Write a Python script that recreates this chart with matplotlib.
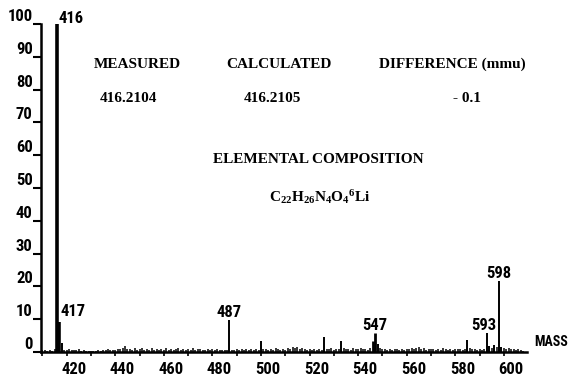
import matplotlib
matplotlib.use("Agg")
import matplotlib.pyplot as plt
import matplotlib.transforms as mtransforms
from matplotlib import font_manager

# ---- data ----
peak_mass = [416, 417, 418, 487, 500, 526, 533, 546, 547, 548, 585, 593, 594, 596, 598, 599]
peak_int = [100, 9.0, 2.8, 9.8, 3.4, 4.5, 3.4, 3.5, 5.9, 2.4, 3.7, 5.9, 1.8, 2.2, 21.5, 1.4]

noise_mass = list(range(410, 609))
noise_int = [
    # 410-419
    0.5, 0.6, 0.4, 0.5, 0.4, 0.9, 0.0, 0.0, 0.0, 0.7,
    # 420-429
    0.5, 0.8, 0.6, 0.7, 0.5, 0.8, 0.4, 0.6, 0.3, 0.4,
    # 430-439
    0.3, 0.4, 0.3, 0.6, 0.4, 0.7, 0.5, 0.9, 0.6, 0.5,
    # 440-449
    0.7, 1.0, 0.8, 1.1, 1.7, 0.8, 1.0, 0.6, 1.1, 0.5,
    # 450-459
    0.8, 1.2, 0.6, 0.9, 0.7, 1.2, 0.6, 0.8, 0.5, 1.0,
    # 460-469
    0.7, 1.3, 0.6, 0.9, 0.5, 0.8, 1.1, 0.6, 0.9, 0.5,
    # 470-479
    1.0, 0.7, 1.1, 0.6, 0.9, 1.0, 0.7, 0.5, 0.8, 0.6,
    # 480-489
    0.9, 0.6, 0.8, 0.5, 0.7, 0.6, 0.5, 0.0, 0.7, 0.6,
    # 490-499
    0.9, 0.5, 0.8, 0.7, 1.0, 0.6, 0.8, 0.5, 0.9, 0.7,
    # 500-509
    0.0, 0.8, 1.0, 0.6, 0.9, 0.7, 1.1, 0.8, 0.6, 1.0,
    # 510-519
    0.7, 1.2, 0.9, 1.5, 1.1, 1.6, 0.8, 1.3, 0.9, 0.6,
    # 520-529
    1.0, 0.7, 0.9, 0.6, 1.0, 0.7, 0.0, 1.0, 0.8, 1.1,
    # 530-539
    0.7, 1.0, 0.8, 0.0, 1.1, 0.9, 1.0, 0.7, 1.1, 0.8,
    # 540-549
    0.9, 1.2, 0.8, 1.0, 0.7, 1.1, 0.0, 0.0, 0.0, 1.2,
    # 550-559
    0.8, 1.0, 0.6, 0.9, 0.7, 1.0, 0.8, 0.6, 0.9, 0.7,
    # 560-569
    1.0, 0.8, 1.1, 0.9, 1.3, 1.6, 0.8, 1.2, 0.7, 1.0,
    # 570-579
    0.8, 0.9, 0.6, 1.0, 0.7, 1.1, 0.8, 0.6, 0.9, 0.7,
    # 580-589
    1.0, 0.8, 0.9, 0.7, 1.0, 0.0, 1.2, 0.8, 1.0, 0.7,
    # 590-599
    0.9, 0.6, 1.0, 0.0, 0.0, 1.2, 0.0, 1.4, 0.0, 0.0,
    # 600-608
    1.2, 0.9, 1.1, 0.8, 1.0, 0.7, 0.9, 0.6, 0.4,
]

y_ticks = [0, 10, 20, 30, 40, 50, 60, 70, 80, 90, 100]
x_major = [420, 440, 460, 480, 500, 520, 540, 560, 580, 600]
x_minor = [410, 430, 450, 470, 490, 510, 530, 550, 570, 590]
peak_labels = ["416", "417", "487", "547", "593", "598"]

# ---- fonts: look for a narrow / condensed sans face ----
fl = font_manager.fontManager.ttflist
tick_family = None
tick_stretch = "normal"
for name in ["Liberation Sans Narrow", "DejaVu Sans Condensed", "Roboto Condensed",
             "Open Sans Condensed", "Noto Sans Condensed"]:
    if any(f.name == name for f in fl):
        tick_family = name
        break
if tick_family is None:
    for f in fl:
        st = str(f.stretch)
        if st in ("condensed", "semi-condensed", "extra-condensed", "ultra-condensed") or \
                (st.isdigit() and int(st) < 500):
            if "Sans" in f.name or "Roboto" in f.name or "Inter" in f.name:
                tick_family = f.name
                tick_stretch = st
                break
if tick_family is None:
    tick_family = "Liberation Sans"

plt.rcParams['mathtext.fontset'] = 'custom'
plt.rcParams['mathtext.rm'] = 'Liberation Serif:bold'
plt.rcParams['mathtext.it'] = 'Liberation Serif:bold'
plt.rcParams['mathtext.bf'] = 'Liberation Serif:bold'

W, H = 571, 376
fig = plt.figure(figsize=(W / 100, H / 100), dpi=100)
ax = fig.add_axes([41 / W, 1 - 352 / H, (527 - 41) / W, (352 - 24) / H])
ax.set_xlim(409.4, 609.5)
ax.set_ylim(0, 100)

ax.vlines(noise_mass, 0, noise_int, color="black", linewidth=1.1)
widths = [2.6 if m in (416, 417) else (2.0 if m in (546, 547) else 1.4) for m in peak_mass]
ax.vlines(peak_mass, 0, peak_int, color="black", linewidth=widths)

for s in ("top", "right"):
    ax.spines[s].set_visible(False)
for s in ("left", "bottom"):
    ax.spines[s].set_linewidth(1.8)

tsize = 12 if tick_family != "Liberation Sans" else 10
tfont = dict(family=[tick_family, "DejaVu Sans"], weight="bold", size=tsize, stretch=tick_stretch)

ax.set_yticks(y_ticks)
ax.set_yticklabels([str(v) for v in y_ticks], **tfont)
for lab in ax.get_yticklabels():
    lab.set_verticalalignment("bottom")
ax.tick_params(axis="y", direction="out", length=6, width=1.5, pad=0)

ax.set_xticks(x_major)
ax.set_xticks(x_minor, minor=True)
ax.set_xticklabels([str(v) for v in x_major], **tfont)
ax.tick_params(axis="x", which="both", direction="out", length=3, width=1.2, pad=4)
off = mtransforms.ScaledTranslation(7 / 100, 0, fig.dpi_scale_trans)
for lab in ax.get_xticklabels():
    lab.set_transform(lab.get_transform() + off)

def ptxt(m, v, s, ha, dx=0, dy=0):
    t = ax.text(m, v, s, ha=ha, va="bottom", clip_on=False, **tfont)
    t.set_transform(ax.transData + mtransforms.ScaledTranslation(dx / 100, dy / 100, fig.dpi_scale_trans))

pk = dict(zip(peak_mass, peak_int))
ptxt(416, 100, peak_labels[0], "left", dx=1, dy=-2)
ptxt(417.4, pk[417] + 1.0, peak_labels[1], "left")
ptxt(487, pk[487], peak_labels[2], "center")
ptxt(547, pk[547], peak_labels[3], "center")
ptxt(593, pk[593], peak_labels[4], "center", dx=-3)
ptxt(598, pk[598], peak_labels[5], "center")

mfont = dict(tfont)
mfont["size"] = tsize - 2
fig.text(568 / W, 1 - 342 / H, "MASS", ha="right", va="center", **mfont)

sfont = dict(family=["Liberation Serif", "DejaVu Serif"], weight="bold", size=11)
fig.text(137 / W, 1 - 64 / H, "MEASURED", ha="center", va="center", **sfont)
fig.text(279 / W, 1 - 64 / H, "CALCULATED", ha="center", va="center", **sfont)
fig.text(452 / W, 1 - 64 / H, "DIFFERENCE (mmu)", ha="center", va="center", **sfont)
fig.text(128 / W, 1 - 98 / H, "416.2104", ha="center", va="center", **sfont)
fig.text(272 / W, 1 - 98 / H, "416.2105", ha="center", va="center", **sfont)
fig.text(467 / W, 1 - 98 / H, "- 0.1", ha="center", va="center", **sfont)
fig.text(318 / W, 1 - 160 / H, "ELEMENTAL COMPOSITION", ha="center", va="center", **sfont)
fig.text(320 / W, 1 - 197 / H, r"$\mathrm{C_{22}H_{26}N_{4}O_{4}{}^{6}Li}$", ha="center", va="center", size=11)

fig.savefig("out.png", dpi=100)
